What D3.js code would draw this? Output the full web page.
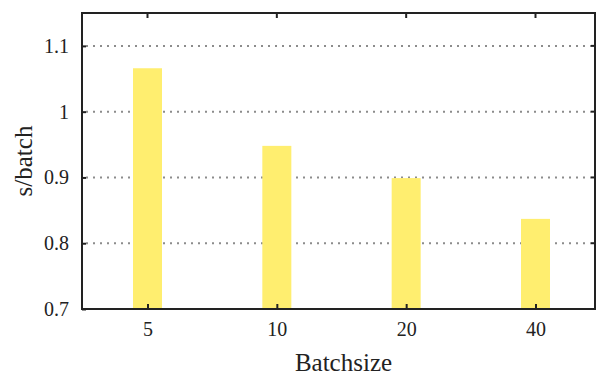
<!DOCTYPE html>
<html>
<head>
<meta charset="utf-8">
<script src="https://cdn.jsdelivr.net/npm/d3@7"></script>
<style>
  body { margin: 0; background: #fff; }
  svg text { font-family: "Liberation Serif", "Times New Roman", Times, "DejaVu Serif", serif; fill: #222; }
</style>
</head>
<body>
<svg id="chart"></svg>
<script>
(function () {

    const width = 596;
    const height = 375;
    const margin = { top: 13, right: 1, bottom: 66, left: 82 };
    const barColor = "rgb(255, 238, 111)";
    const axisColor = "#222";
    const gridColor = "#8c8c8c";
    const fontFamily = "'Liberation Serif', 'Times New Roman', Times, serif";

    const categories = ["5", "10", "20", "40"];
    const values = [1.066, 0.948, 0.899, 0.837];
    const yTicks = [0.7, 0.8, 0.9, 1, 1.1];
    const yTickLabels = ["0.7", "0.8", "0.9", "1", "1.1"];

    const svg = d3.select("#chart")
        .attr("width", width)
        .attr("height", height);

    const x0 = margin.left;
    const x1 = width - margin.right;
    const y0 = height - margin.bottom;
    const y1 = margin.top;

    const x = d3.scalePoint()
        .domain(categories)
        .range([147.5, 535.5]);

    const y = d3.scaleLinear()
        .domain([0.7, 1.15])
        .range([y0, y1]);

    // dotted grid
    svg.append("g")
        .selectAll("line")
        .data(yTicks.slice(1))
        .enter()
        .append("line")
        .attr("x1", x0 + 4)
        .attr("x2", x1 - 4)
        .attr("y1", d => y(d))
        .attr("y2", d => y(d))
        .attr("stroke", gridColor)
        .attr("stroke-width", 2)
        .attr("stroke-dasharray", "2,5");

    // bars
    const barWidth = 29;
    svg.append("g")
        .selectAll("rect")
        .data(values)
        .enter()
        .append("rect")
        .attr("x", (d, i) => x(categories[i]) - barWidth / 2)
        .attr("y", d => y(d))
        .attr("width", barWidth)
        .attr("height", d => y0 - y(d))
        .attr("fill", barColor);

    // left axis with inward ticks
    const yAxis = svg.append("g")
        .attr("transform", `translate(${x0},0)`)
        .attr("font-family", fontFamily)
        .call(d3.axisLeft(y)
            .tickValues(yTicks)
            .tickFormat((d, i) => yTickLabels[i])
            .tickSizeInner(-4)
            .tickSizeOuter(0)
            .tickPadding(13));
    yAxis.attr("font-family", fontFamily);
    yAxis.select(".domain").remove();
    yAxis.selectAll("line").attr("stroke", axisColor).attr("stroke-width", 2);
    yAxis.selectAll("text")
        .attr("font-size", 20)
        .attr("fill", axisColor);

    // right ticks
    svg.append("g")
        .selectAll("line")
        .data(yTicks)
        .enter()
        .append("line")
        .attr("x1", x1 - 4)
        .attr("x2", x1)
        .attr("y1", d => y(d))
        .attr("y2", d => y(d))
        .attr("stroke", axisColor)
        .attr("stroke-width", 2);

    // bottom axis, ticks pointing up
    const xAxis = svg.append("g")
        .attr("transform", `translate(0,${y0})`)
        .call(d3.axisBottom(x)
            .tickSizeInner(-5)
            .tickSizeOuter(0)
            .tickPadding(13));
    xAxis.attr("font-family", fontFamily);
    xAxis.select(".domain").remove();
    xAxis.selectAll("line").attr("stroke", axisColor).attr("stroke-width", 2);
    xAxis.selectAll("text")
        .attr("font-size", 20)
        .attr("fill", axisColor);

    // top ticks pointing down
    svg.append("g")
        .selectAll("line")
        .data(categories)
        .enter()
        .append("line")
        .attr("x1", d => x(d))
        .attr("x2", d => x(d))
        .attr("y1", y1)
        .attr("y2", y1 + 5)
        .attr("stroke", axisColor)
        .attr("stroke-width", 2);

    // frame
    svg.append("rect")
        .attr("x", x0)
        .attr("y", y1)
        .attr("width", x1 - x0)
        .attr("height", y0 - y1)
        .attr("fill", "none")
        .attr("stroke", axisColor)
        .attr("stroke-width", 2);

    // axis titles
    svg.append("text")
        .attr("x", (x0 + x1) / 2 + 5)
        .attr("y", 371)
        .attr("text-anchor", "middle")
        .attr("font-family", fontFamily)
        .attr("font-size", 25)
        .text("Batchsize");

    svg.append("text")
        .attr("transform", `translate(32,${(y0 + y1) / 2}) rotate(-90)`)
        .attr("text-anchor", "middle")
        .attr("font-family", fontFamily)
        .attr("font-size", 25)
        .text("s/batch");

})();
</script>
</body>
</html>
